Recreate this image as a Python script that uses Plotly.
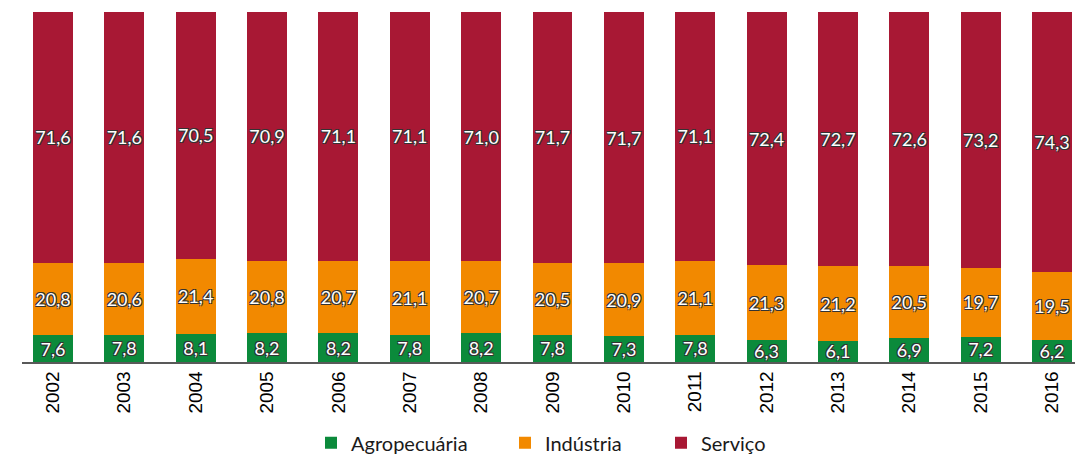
import plotly.graph_objects as go

anos = ["2002","2003","2004","2005","2006","2007","2008","2009","2010","2011","2012","2013","2014","2015","2016"]
agro = [7.6,7.8,8.1,8.2,8.2,7.8,8.2,7.8,7.3,7.8,6.3,6.1,6.9,7.2,6.2]
industria = [20.8,20.6,21.4,20.8,20.7,21.1,20.7,20.5,20.9,21.1,21.3,21.2,20.5,19.7,19.5]
servico = [71.6,71.6,70.5,70.9,71.1,71.1,71.0,71.7,71.7,71.1,72.4,72.7,72.6,73.2,74.3]

series = [("Agropecuária", agro, "#0b8a3b", "legend"),
          ("Indústria", industria, "#f28900", "legend2"),
          ("Serviço", servico, "#a81834", "legend3")]

shadow = "-1px -1px 0 #333, 1px -1px 0 #333, -1px 1px 0 #333, 1px 1px 0 #333"

fig = go.Figure()
for name, vals, col, lg in series:
    fig.add_trace(go.Bar(
        x=anos, y=vals, name=name, legend=lg,
        marker=dict(color=col, line=dict(width=0)),
        text=[f"{v:.1f}".replace(".", ",") for v in vals],
        textposition="inside", insidetextanchor="middle", textangle=0,
        constraintext="none",
        textfont=dict(family="Lato, Open Sans, sans-serif", size=18, color="white", shadow=shadow),
        hoverinfo="skip",
    ))

# page has an 8px body margin; figure is sized to fill the remaining window
OFF = 8
W, H = 1083 - OFF, 454 - OFF
L, R, T, B = 22 - OFF, 5, 12 - OFF, 92
plot_w = W - L - R

def lx(page_px):
    return (page_px - 22) / plot_w

legend_font = dict(family="Lato, Open Sans, sans-serif", size=20, color="#1a1a1a")
common = dict(orientation="h", y=-0.231, yanchor="middle", xanchor="left",
              font=legend_font, bgcolor="rgba(0,0,0,0)")

fig.update_layout(
    barmode="stack", bargap=0.44,
    width=W, height=H,
    margin=dict(l=L, r=R, t=T, b=B, autoexpand=False),
    plot_bgcolor="white", paper_bgcolor="white",
    showlegend=True,
    legend=dict(x=lx(336 - 25), **common),
    legend2=dict(x=lx(530 - 25), **common),
    legend3=dict(x=lx(686 - 25), **common),
    xaxis=dict(tickangle=-90, tickfont=dict(family="Liberation Sans", size=19, color="black"),
               range=[-0.434, 14.364], automargin=False,
               showline=True, linecolor="#595959", linewidth=1.5, ticks="", showgrid=False),
    yaxis=dict(range=[0, 100], visible=False, showgrid=False, automargin=False),
)

fig.write_html("out.html")
